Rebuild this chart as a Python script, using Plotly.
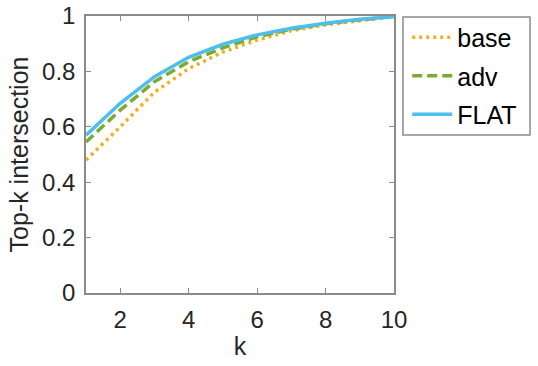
import plotly.graph_objects as go

k = [1, 2, 3, 4, 5, 6, 7, 8, 9, 10]
base = [0.48, 0.60, 0.725, 0.81, 0.87, 0.913, 0.947, 0.968, 0.983, 0.998]
adv = [0.545, 0.66, 0.763, 0.835, 0.885, 0.925, 0.952, 0.972, 0.986, 0.998]
flat = [0.57, 0.685, 0.781, 0.851, 0.898, 0.932, 0.956, 0.974, 0.988, 0.998]

series = [
    ("base", base, "#EDB120", "3px,4px"),
    ("adv", adv, "#77AC30", "10px,5px"),
    ("FLAT", flat, "#4DBEEE", "solid"),
]

fig = go.Figure()
for name, vals, col, dash in series:
    fig.add_trace(go.Scatter(x=k, y=vals, mode="lines", name=name, legendgroup=name,
                             line=dict(color=col, width=3.5, dash=dash)))

axis_common = dict(showline=True, linecolor="#8a8a8a", linewidth=1.5, mirror="ticks",
                   ticks="inside", ticklen=5, tickcolor="#8a8a8a", showgrid=False,
                   zeroline=False, tickfont=dict(size=24, color="#262626"))

fig.update_xaxes(range=[1, 10], tickvals=[2, 4, 6, 8, 10], ticklabelstandoff=4,
                 title=dict(text="k", font=dict(size=25, color="#262626"), standoff=6),
                 **axis_common)
fig.update_yaxes(range=[0, 1], tickvals=[0, 0.2, 0.4, 0.6, 0.8, 1],
                 ticktext=["0", "0.2", "0.4", "0.6", "0.8", "1"], ticklabelstandoff=4,
                 title=dict(text="Top-k intersection", font=dict(size=25, color="#262626"), standoff=6),
                 **axis_common)

# legend frame (drawn as a shape so its size matches the original box)
fig.add_shape(type="rect", xref="paper", yref="paper",
              x0=1.0292, x1=1.4416, y0=0.570, y1=0.9964,
              line=dict(color="#8a8a8a", width=1.5), fillcolor="rgba(0,0,0,0)")

fig.update_layout(
    width=538, height=366,
    margin=dict(l=86, r=144, t=16, b=73, autoexpand=False),
    paper_bgcolor="white", plot_bgcolor="white",
    font=dict(family="Liberation Sans, Arial, sans-serif", color="#262626"),
    legend=dict(x=1.043, xanchor="left", y=1.005, yanchor="top",
                borderwidth=0, bgcolor="rgba(0,0,0,0)",
                font=dict(size=25, color="#000000"), tracegroupgap=3,
                itemwidth=40),
)

fig.write_html("out.html", config={"displayModeBar": False},
               post_script="document.body.style.margin='0';")
